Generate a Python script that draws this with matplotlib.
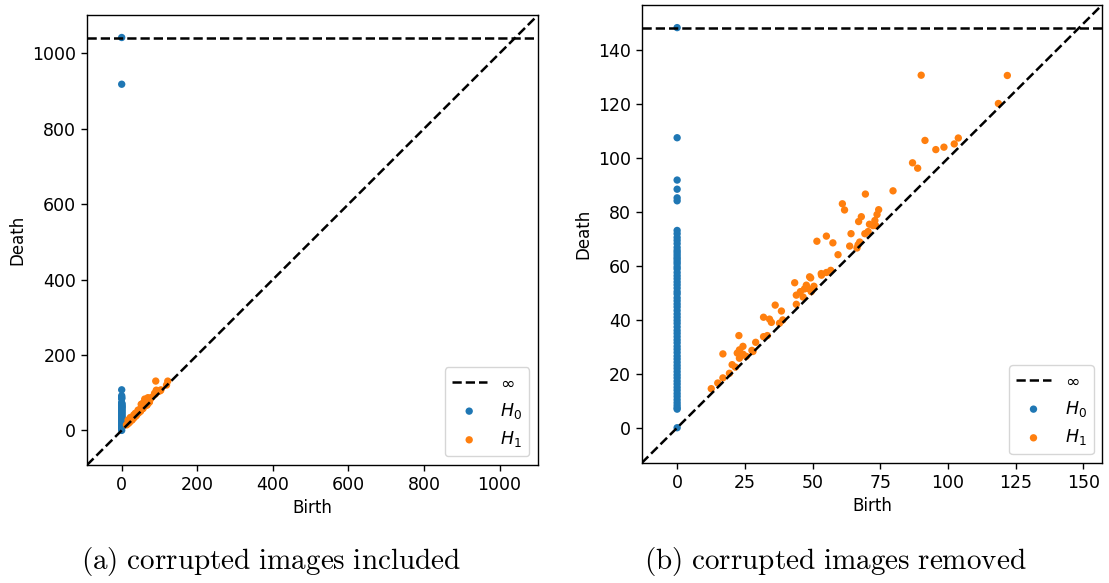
import numpy as np
import matplotlib
matplotlib.use("Agg")
import matplotlib.pyplot as plt

# H0 deaths (all born at 0) after removing the corrupted images
h0_deaths = [0.0, 6.9, 7.4, 8.3, 9.3, 10.4, 11.6, 12.7, 13.9, 15.0, 16.2, 17.3,
             18.5, 19.6, 20.8, 22.0, 23.1, 24.3, 25.5, 26.6, 27.9, 29.1, 30.2,
             31.5, 32.6, 33.8, 35.0, 36.1, 37.4, 38.7, 39.8, 41.0, 42.2, 43.5,
             44.8, 45.9, 47.1, 48.2, 49.6, 50.5, 51.8, 53.0, 54.1, 55.3, 56.4,
             57.6, 58.9, 59.7, 60.8, 61.6, 62.5, 63.2, 64.1, 65.0, 65.8, 66.9,
             68.3, 69.5, 70.6, 72.0, 73.2, 84.2, 85.3, 88.5, 91.9, 107.6]
# extra H0 death caused by the corrupted images
corrupted_h0 = [918.0]

h1_births = [12.6, 15.0, 16.9, 16.9, 19.3, 20.3, 21.5, 22.2, 23.0, 22.8, 23.0,
             24.3, 24.3, 25.5, 27.6, 28.0, 29.0, 31.9, 33.3, 31.9, 34.1, 34.8,
             36.2, 38.5, 37.8, 39.0, 43.4, 44.0, 44.0, 45.5, 46.5, 47.0, 47.7,
             48.3, 48.9, 49.3, 49.5, 50.5, 51.6, 53.2, 53.3, 55.1, 55.1, 56.7,
             57.5, 59.4, 61.0, 61.8, 63.7, 64.2, 66.4, 66.8, 67.4, 68.0, 67.0,
             69.3, 69.5, 70.5, 71.0, 72.3, 73.0, 73.3, 73.8, 74.4, 79.7, 86.9,
             88.8, 90.1, 91.5, 95.5, 98.5, 102.3, 103.8, 118.6, 121.9]
h1_deaths = [14.5, 16.6, 18.5, 27.4, 20.2, 23.4, 22.5, 27.7, 25.8, 34.2, 28.9,
             30.2, 27.3, 26.5, 28.7, 28.3, 31.7, 33.8, 34.2, 41.0, 40.3, 39.1,
             45.5, 43.3, 38.8, 40.0, 53.8, 49.2, 45.8, 50.5, 48.5, 51.5, 52.9,
             51.7, 56.0, 55.6, 50.5, 52.5, 69.2, 57.2, 56.6, 57.6, 71.1, 58.4,
             68.6, 64.2, 83.1, 80.8, 67.4, 72.0, 66.7, 67.9, 68.9, 78.3, 76.5,
             72.0, 86.7, 72.8, 75.5, 75.0, 76.9, 75.0, 79.1, 80.9, 87.9, 98.3,
             96.3, 130.8, 106.6, 103.2, 104.1, 105.3, 107.5, 120.3, 130.7]

captions = ["(a) corrupted images included", "(b) corrupted images removed"]


def plot_diagram(ax, dgms):
    # persim-style persistence diagram
    allv = np.concatenate([d.flatten() for d in dgms])
    finite = allv[np.isfinite(allv)]
    lo, hi = finite.min(), finite.max()
    buf = (hi - lo) / 5
    x_down, x_up = lo - buf / 2, hi + buf
    b_inf = x_down + (x_up - x_down) * 0.95

    ax.plot([x_down, x_up], [x_down, x_up], "--", c="k", lw=1.8)
    ax.plot([x_down, x_up], [b_inf, b_inf], "--", c="k", lw=1.8,
            label=r"$\infty$")
    for i, d in enumerate(dgms):
        d = d.copy()
        d[np.isinf(d)] = b_inf
        ax.scatter(d[:, 0], d[:, 1], s=28, label=r"$H_{%d}$" % i,
                   edgecolors="none")
    ax.set_xlim(x_down, x_up)
    ax.set_ylim(x_down, x_up)
    ax.set_xlabel("Birth", fontsize=12)
    ax.set_ylabel("Death", fontsize=12)
    ax.tick_params(labelsize=12.5, length=4.2, width=1.0)
    for sp in ax.spines.values():
        sp.set_linewidth(1.0)
    ax.legend(loc="lower right", fontsize=12.5)


h1 = np.column_stack([h1_births, h1_deaths])
h0_clean = np.array([[0.0, d] for d in h0_deaths] + [[0.0, np.inf]])
h0_full = np.array([[0.0, d] for d in h0_deaths + corrupted_h0] + [[0.0, np.inf]])

fig = plt.figure(figsize=(11.09, 5.83), dpi=100)
W, H = 1109, 583
ax1 = fig.add_axes([87 / W, (H - 465) / H, 451 / W, 450 / H])
ax2 = fig.add_axes([641.7 / W, (H - 463) / H, 460.6 / W, 458.3 / H])

plot_diagram(ax1, [h0_full, h1])
plot_diagram(ax2, [h0_clean, h1])
ax2.set_xticks([0, 25, 50, 75, 100, 125, 150])

fig.text(271 / W, 1 - 561 / H, r"$\mathrm{%s}$" % captions[0].replace(" ", r"\ "),
         ha="center", va="center", fontsize=21, math_fontfamily="cm")
fig.text(835 / W, 1 - 561 / H, r"$\mathrm{%s}$" % captions[1].replace(" ", r"\ "),
         ha="center", va="center", fontsize=21, math_fontfamily="cm")

fig.savefig("out.png", dpi=100)
